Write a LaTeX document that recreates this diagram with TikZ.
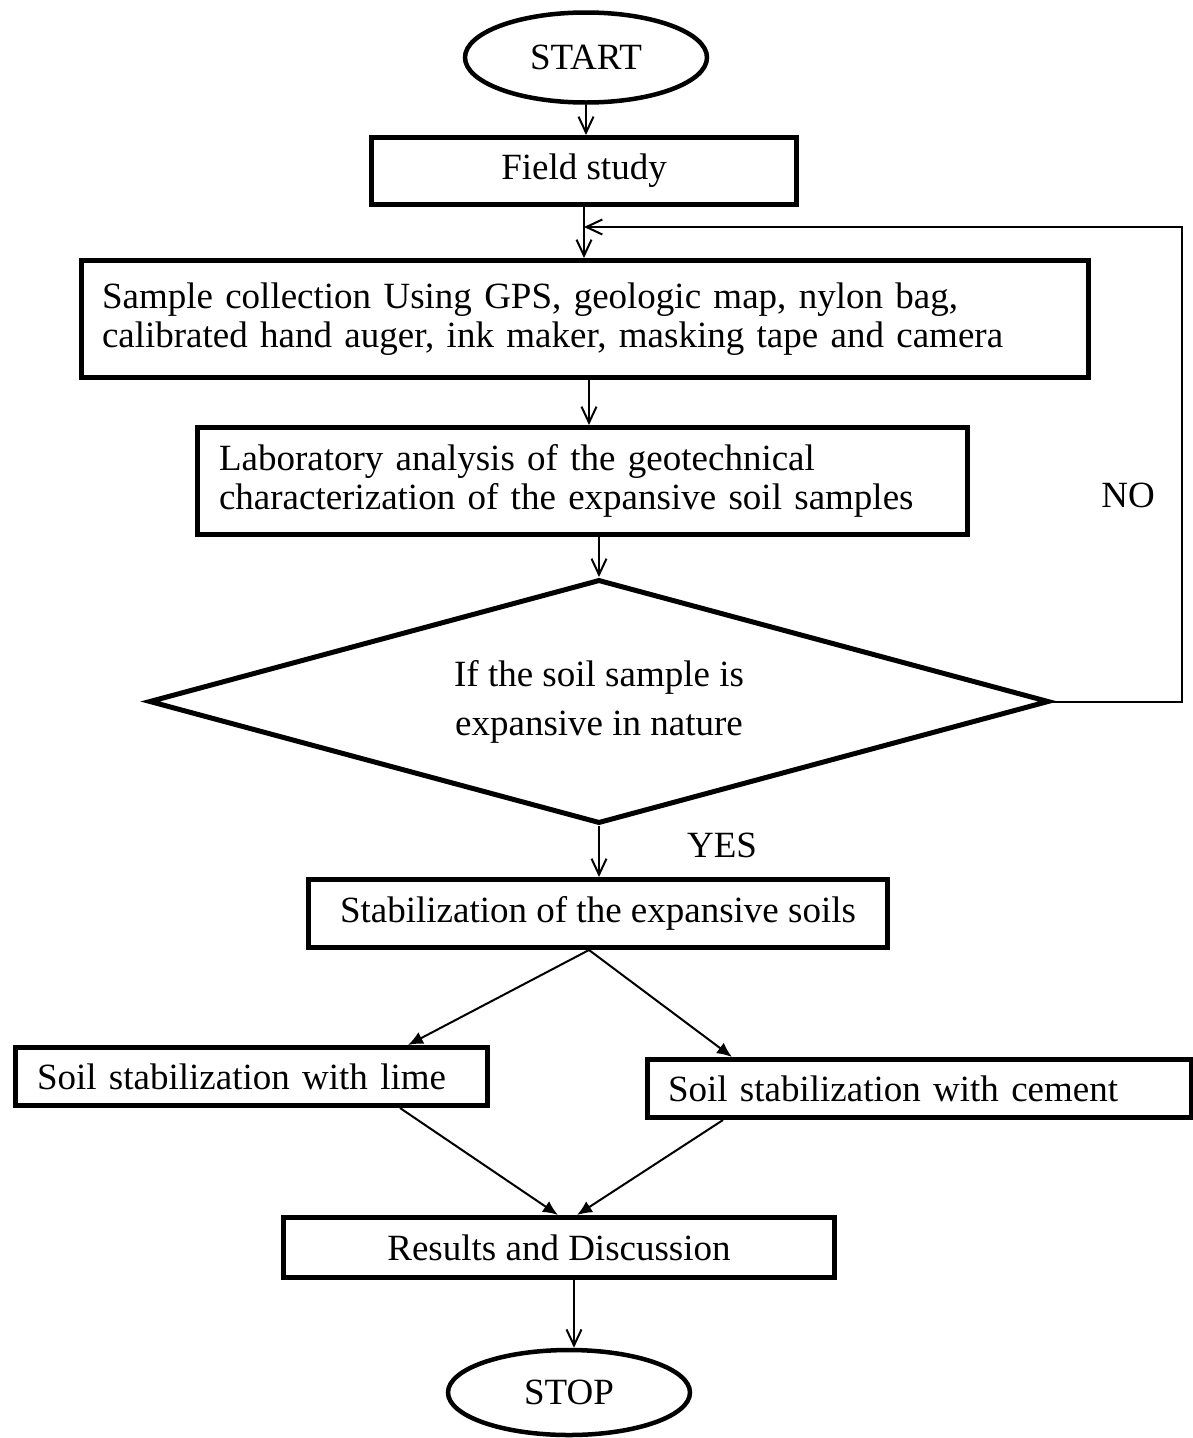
\documentclass[tikz,border=0pt]{standalone}
\usepackage{fontspec}
\setmainfont{Liberation Serif}
\usetikzlibrary{arrows.meta,shapes.geometric,calc}
\begin{document}
\begin{tikzpicture}[x=1pt,y=-1pt,
  every node/.style={font=\fontsize{37}{38.5}\selectfont},
  box/.style={draw,rectangle,line width=5pt,inner sep=0pt},
  cbox/.style={box,align=center},
  lbox/.style={box,align=left},
  term/.style={draw,ellipse,line width=4.5pt,inner sep=0pt},
  conn/.style={line width=2pt},
  vee/.style={conn,-{Straight Barb[length=16pt,width=15pt]}},
  tri/.style={conn,-{Latex[length=15pt,width=13pt]}},
  lbl/.style={inner sep=0pt}]
\useasboundingbox (0,0) rectangle (1193,1438);

% nodes
\node[term,minimum width=242pt,minimum height=90pt] (start) at (586,57.5) {START};
\node[cbox,minimum width=425pt,minimum height=67pt] (field) at (584,171) {Field study};
\node[lbox,text width=966pt,inner xsep=20.5pt,minimum height=117pt] (sample) at (585,319)
  {Sample collection Using GPS, geologic map, nylon bag,\\calibrated hand auger, ink maker, masking tape and camera};
\node[lbox,text width=727pt,inner xsep=21.5pt,minimum height=107pt] (lab) at (582.5,481)
  {Laboratory analysis of the geotechnical\\characterization of the expansive soil samples};
\node[draw,diamond,line width=5pt,minimum width=900pt,minimum height=244pt,shape aspect=3.64,
  inner sep=0pt,align=center,font=\fontsize{37}{49}\selectfont] (dia) at (599,701.5)
  {If the soil sample is\\expansive in nature};
\node[cbox,minimum width=579pt,minimum height=68pt] (stab) at (598,913.5) {Stabilization of the expansive soils};
\node[lbox,text width=429pt,inner xsep=21.5pt,minimum height=58pt] (lime) at (251.5,1076.5)
  {Soil stabilization with lime};
\node[lbox,text width=502.5pt,inner xsep=20.5pt,minimum height=58pt] (cement) at (919.25,1088.5)
  {Soil stabilization with cement};
\node[cbox,minimum width=551pt,minimum height=60pt] (results) at (559,1247.5) {Results and Discussion};
\node[term,minimum width=242pt,minimum height=85pt] (stop) at (569,1392.5) {STOP};

\node[lbl] (no) at (1128,495) {NO};
\node[lbl] (yes) at (722,845) {YES};

% helper coordinates
\coordinate (s1) at ($(sample.south)+(4,0)$);
\coordinate (fbr) at (1182,227);
\coordinate (sb) at ($(stab.south)+(-9,0)$);
\coordinate (lt) at ($(lime.north west)+(395,0)$);
\coordinate (ct) at ($(cement.north west)+(87,0)$);
\coordinate (lb) at ($(lime.south west)+(387,0)$);
\coordinate (cb) at ($(cement.south west)+(78,0)$);
\coordinate (rt1) at ($(results.north west)+(277,0)$);
\coordinate (rt2) at ($(results.north west)+(296,0)$);
\coordinate (rb) at ($(results.south west)+(293,0)$);

% connectors
\draw[vee] (start.south) -- (start.south |- field.north);
\draw[vee] (field.south) -- (field.south |- sample.north);
\draw[vee] (dia.east) -| (fbr) -- (field.south |- fbr);
\draw[vee] (s1) -- (s1 |- lab.north);
\draw[vee] (lab.south -| dia.north) -- (dia.north);
\draw[vee] (dia.south) -- (dia.south |- stab.north);
\draw[tri] (sb) -- (lt);
\draw[tri] (sb) -- (ct);
\draw[tri] (lb) -- (rt1);
\draw[tri] (cb) -- (rt2);
\draw[vee] (rb) -- (rb |- stop.north);
\end{tikzpicture}
\end{document}
